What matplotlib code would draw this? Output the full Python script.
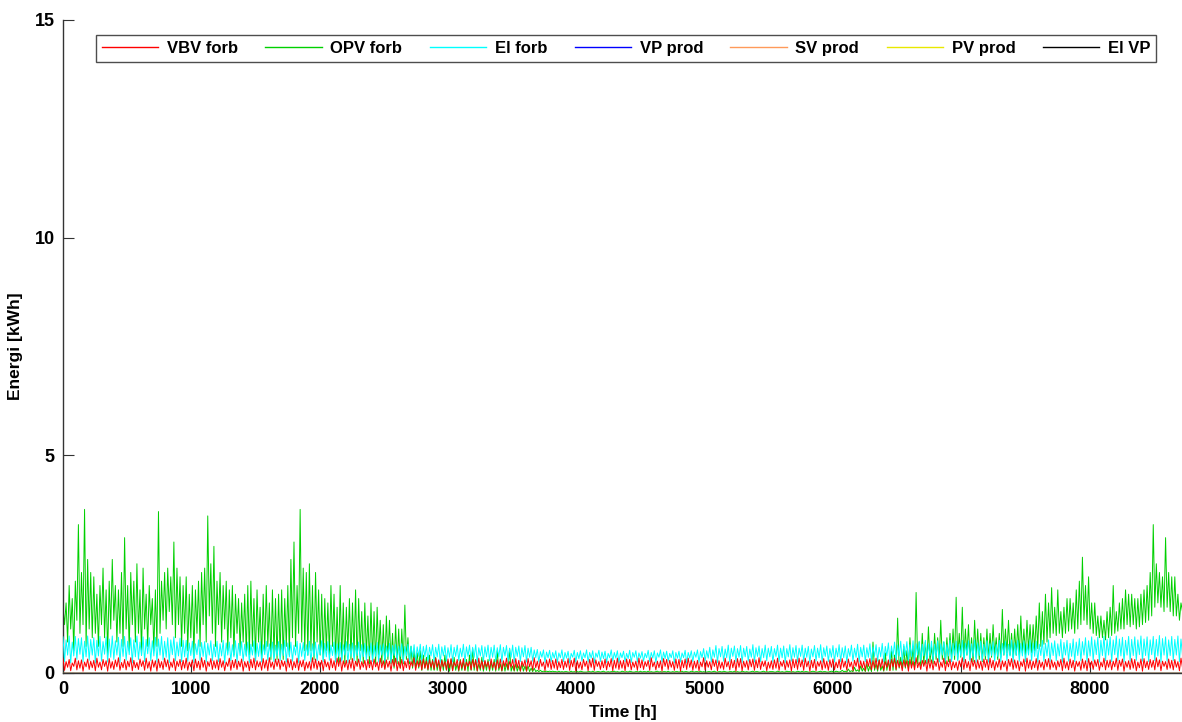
import numpy as np
import matplotlib
matplotlib.use("Agg")
import matplotlib.pyplot as plt

plt.rcParams['font.family'] = ['Liberation Sans', 'DejaVu Sans']
plt.rcParams['font.weight'] = 'bold'

STEP_H = 12  # one value every 12 hours (day peak / night low)

# OPV forb (green), hundredths of kWh, rows of 10 days
opv_forb_c = [
    150,110,160,70,200,100,170,50,210,120,340,90,230,110,375,60,260,100,230,80,
    220,90,180,60,200,110,240,80,190,40,210,100,260,120,200,70,190,90,230,60,
    310,100,200,50,230,110,210,70,250,90,190,40,240,100,180,60,200,110,170,50,
    190,60,370,90,210,120,230,100,240,140,220,110,300,80,240,110,220,60,200,90,
    220,50,180,80,200,40,190,90,210,60,230,110,240,70,360,130,250,90,290,60,
    210,110,230,70,200,100,210,50,190,80,200,40,180,90,170,50,160,70,180,40,
    200,40,210,60,170,30,190,70,150,30,180,50,200,60,160,30,190,40,170,30,
    180,40,190,30,170,60,200,40,260,80,300,60,200,90,375,70,240,50,230,40,
    250,50,200,30,230,70,190,40,180,30,170,50,160,40,200,60,180,30,150,20,
    200,30,160,20,150,50,170,30,160,40,190,20,170,50,140,20,160,40,130,20,
    160,30,140,20,150,40,120,20,110,10,130,30,120,20,90,10,110,20,100,10,
    100,20,155,30,80,20,60,10,50,10,45,10,50,5,40,10,35,5,40,5,
    30,5,35,5,25,3,30,5,40,5,25,3,30,5,35,5,20,3,30,5,
    25,5,30,3,40,5,55,5,30,3,20,5,35,3,25,5,30,3,25,5,
    30,3,50,5,20,3,25,3,20,5,55,3,15,3,20,3,15,3,20,3,
    15,3,15,2,10,2,10,2,5,2,5,2,3,2,3,2,3,2,3,2,
    2,1,3,1,2,1,2,2,1,1,3,1,2,1,2,1,3,2,1,1,
    1,2,2,1,3,1,1,2,2,1,2,3,1,1,2,1,2,2,3,1,
    2,1,1,3,2,1,2,1,3,2,1,1,2,2,1,3,1,2,2,1,
    3,1,2,1,1,2,3,1,2,1,2,2,1,3,1,1,2,1,2,2,
    1,2,3,1,2,2,1,1,3,2,1,2,2,1,3,1,2,1,1,2,
    2,1,2,3,1,1,2,2,1,3,2,1,1,2,2,1,3,1,2,1,
    1,3,2,1,2,1,1,2,3,1,2,2,1,1,2,3,1,2,1,2,
    2,2,1,1,3,2,1,2,1,1,3,2,2,1,2,1,1,3,2,1,
    3,1,2,2,1,1,2,3,2,1,1,2,3,1,2,2,1,1,2,3,
    2,1,3,2,1,2,5,2,3,1,8,2,4,2,12,3,6,2,15,3,
    10,2,20,3,15,2,70,5,20,3,30,5,15,3,45,5,25,5,50,5,
    40,5,125,10,35,10,60,10,50,10,80,15,60,10,184,20,70,15,90,20,
    70,20,105,25,60,20,90,30,80,25,120,30,70,20,80,25,90,30,100,30,
    173,30,90,35,150,30,100,40,110,30,80,25,120,35,100,30,90,25,80,30,
    100,30,90,35,110,40,80,30,90,35,145,40,100,45,120,40,90,35,100,40,
    110,40,130,45,100,40,120,50,110,45,110,50,130,55,160,60,140,65,180,70,
    160,80,195,90,150,85,190,90,140,80,150,90,170,95,170,100,160,90,190,100,
    210,110,265,120,200,110,220,100,160,90,160,85,130,80,130,80,120,75,140,80,
    150,85,200,90,140,95,160,100,170,100,190,110,180,105,180,110,170,100,170,105,
    180,110,190,115,200,120,230,130,340,150,250,160,230,150,220,140,310,150,230,140,
    220,130,220,130,180,120,160,140,
]

# El forb (cyan), hundredths of kWh
el_forb_c = [
    82,25,75,40,84,22,70,38,83,30,78,42,80,24,72,36,84,28,76,40,
    80,22,74,38,83,26,71,42,82,24,77,35,84,30,73,40,81,23,76,37,
    83,28,72,41,80,22,75,36,84,30,70,39,82,25,76,43,80,27,73,38,
    81,24,77,40,83,29,72,35,80,23,75,41,82,27,70,38,79,25,74,36,
    74,26,68,39,72,23,66,41,75,28,69,37,71,24,67,40,73,27,65,36,
    72,25,66,38,74,22,68,40,70,27,64,36,73,24,67,39,71,26,65,37,
    70,23,65,40,73,26,67,37,71,24,64,41,72,28,66,36,70,25,63,38,
    71,27,65,39,74,24,68,36,70,26,63,40,72,23,67,37,69,28,64,39,
    72,24,66,38,70,27,64,41,73,25,67,36,71,28,63,39,70,24,66,37,
    69,26,64,40,71,23,65,37,68,27,62,39,70,25,64,36,67,28,61,38,
    68,25,62,37,69,24,63,40,66,26,61,36,67,23,62,39,65,27,60,37,
    66,24,60,38,65,26,61,35,64,23,59,37,65,27,60,36,63,24,58,38,
    64,25,58,36,65,23,59,38,62,26,57,35,64,24,58,37,63,27,56,36,
    65,24,59,37,63,26,58,35,64,23,57,38,62,25,59,36,63,27,58,35,
    63,25,57,36,64,24,58,38,62,26,56,35,63,23,58,37,61,25,57,36,
    62,24,56,35,58,26,52,34,53,24,48,35,52,23,47,34,51,25,46,33,
    50,23,45,34,52,25,46,33,49,22,44,35,51,24,46,32,50,26,45,34,
    52,24,46,33,50,22,45,35,51,25,47,32,49,23,44,34,52,26,46,33,
    50,22,45,34,49,25,44,32,51,23,46,35,50,24,45,33,48,26,44,34,
    51,25,46,33,50,23,45,35,52,24,47,32,49,26,44,34,50,22,46,33,
    49,24,45,34,51,22,46,33,50,25,47,35,52,23,48,34,55,26,50,33,
    58,24,52,35,62,23,55,36,60,26,54,34,63,24,56,37,61,25,55,35,
    62,23,56,36,60,26,54,35,64,24,57,37,61,25,55,34,63,27,56,36,
    60,24,55,37,63,25,56,34,61,23,55,36,64,26,57,35,62,24,56,37,
    63,25,56,35,60,23,54,36,62,26,56,34,64,24,57,37,61,25,55,35,
    62,24,56,36,64,25,57,34,61,23,55,37,63,26,56,35,65,24,58,36,
    63,25,57,35,66,24,59,37,64,26,58,36,67,25,60,38,68,24,61,37,
    70,26,63,38,72,24,65,39,71,27,64,37,73,25,66,40,72,26,65,38,
    74,25,66,39,72,27,65,37,73,24,66,40,71,26,64,38,74,25,67,39,
    72,27,65,38,74,25,67,40,73,26,66,37,75,24,68,39,72,27,65,38,
    73,24,66,39,71,26,64,37,74,25,67,40,72,27,65,38,75,24,68,39,
    74,26,67,38,73,25,66,40,75,27,68,37,72,24,65,39,74,26,67,38,
    75,25,68,39,73,27,66,38,76,24,69,40,74,26,67,37,77,25,70,39,
    78,27,71,40,80,25,73,38,82,26,75,41,81,24,74,39,83,27,76,40,
    82,25,75,41,84,27,77,38,81,24,74,40,83,26,76,39,82,28,75,41,
    84,26,77,39,82,25,75,41,83,27,76,38,85,24,78,40,82,26,75,39,
    83,27,76,40,84,25,77,38,
]

# VBV forb (red), hundredths of kWh
vbv_forb_c = [
    32,5,25,12,30,4,22,14,33,6,27,10,29,3,24,13,31,7,26,11,
    28,4,33,12,24,6,30,14,27,3,32,10,25,7,29,13,34,5,23,11,
    30,6,26,13,34,4,28,11,23,7,31,14,27,5,33,10,25,3,29,12,
    27,3,31,11,25,7,33,13,29,5,24,12,32,4,26,14,30,6,28,10,
    33,5,24,13,29,4,31,11,26,6,34,12,28,3,25,14,32,7,27,10,
    29,6,32,12,27,4,24,14,33,5,28,11,30,7,26,13,31,3,25,12,
    26,4,30,11,33,6,27,13,25,5,32,10,29,4,34,12,24,7,31,14,
    31,7,28,14,26,3,32,12,30,6,25,11,33,5,27,13,29,4,24,10,
    25,5,34,10,31,7,26,12,28,4,30,13,24,6,32,11,27,5,33,14,
    34,3,27,12,28,6,29,10,32,4,26,14,31,7,25,12,28,6,30,11,
    28,6,31,13,24,5,33,11,27,7,29,12,26,3,30,14,33,4,25,10,
    30,4,26,11,32,7,25,14,34,5,27,13,28,6,31,10,26,7,29,12,
    27,7,33,12,29,3,28,13,25,6,31,11,32,4,24,14,30,5,27,10,
    32,5,24,14,26,6,30,12,29,4,33,10,27,7,28,13,25,6,31,11,
    24,6,29,10,31,4,27,13,33,7,25,12,30,5,32,11,28,3,26,14,
    29,3,32,13,27,5,34,11,26,6,30,14,24,4,29,12,31,7,28,10,
    31,6,25,11,30,7,26,12,32,5,28,13,33,3,27,10,24,6,30,14,
    26,4,30,12,33,5,29,14,25,7,27,11,31,6,26,13,32,4,28,10,
    33,7,27,10,28,4,31,13,30,6,24,12,26,5,33,11,29,7,25,14,
    28,5,34,13,24,6,26,11,27,3,32,14,30,7,28,12,25,5,31,10,
    30,3,28,11,31,7,33,12,29,5,26,10,28,4,24,13,34,6,27,12,
    25,6,31,14,29,4,27,10,24,7,33,13,25,6,30,11,28,3,32,12,
    32,4,26,12,27,6,30,13,31,5,29,11,34,7,26,14,27,4,24,10,
    27,7,29,10,33,5,25,14,28,6,27,12,29,3,31,11,30,7,33,13,
    29,5,33,13,26,3,28,11,30,4,25,14,27,6,32,10,26,5,29,12,
    31,6,24,11,30,7,32,12,26,5,31,13,24,4,28,14,33,6,27,10,
    26,4,30,14,32,6,27,10,33,7,28,11,31,5,25,12,29,4,30,13,
    33,7,28,12,25,4,29,13,27,3,30,10,26,6,34,11,24,7,28,14,
    28,3,31,10,29,6,26,14,32,5,24,12,33,4,27,13,31,6,25,11,
    24,5,27,13,34,7,30,11,25,4,32,14,28,7,29,10,26,5,31,12,
    30,6,33,11,28,5,25,12,31,6,27,13,26,3,30,14,32,7,29,10,
    27,4,25,14,31,3,33,10,29,7,26,11,32,5,28,12,24,6,30,13,
    32,7,29,12,24,6,27,13,30,4,33,10,25,6,31,11,28,3,26,14,
    25,5,31,10,27,4,32,11,26,7,29,14,30,5,24,13,33,6,28,12,
    29,6,26,13,33,5,28,14,31,3,25,12,27,7,32,10,30,4,24,11,
    31,3,32,11,26,7,30,12,28,6,34,13,29,4,26,14,25,7,31,10,
    28,6,30,12,25,4,33,11,
]

# series that stay at zero over the whole year (start and end points)
zero_hours = [0, 8724]
vp_prod = [0.0, 0.0]
sv_prod = [0.0, 0.0]
pv_prod = [0.0, 0.0]
el_vp = [0.0, 0.0]

labels = ['VBV forb', 'OPV forb', 'El forb', 'VP prod', 'SV prod', 'PV prod', 'El VP']
colors = ['#ff0000', '#00d000', '#00ffff', '#0000ff', '#ff9a5a', '#e8e800', '#000000']

opv_forb = np.array(opv_forb_c) / 100.0
el_forb = np.array(el_forb_c) / 100.0
vbv_forb = np.array(vbv_forb_c) / 100.0

def hours_for(series):
    return STEP_H * np.arange(len(series))

W, H = 1182, 722
fig = plt.figure(figsize=(W / 100, H / 100), dpi=100)
ax = fig.add_axes([63 / W, 1 - 672.5 / H, (W - 63) / W, (672.5 - 20) / H])

lw = 0.7
h_green, = ax.plot(hours_for(opv_forb), opv_forb, color=colors[1], lw=lw, zorder=2)
h_cyan, = ax.plot(hours_for(el_forb), el_forb, color=colors[2], lw=lw, zorder=3)
h_red, = ax.plot(hours_for(vbv_forb), vbv_forb, color=colors[0], lw=lw, zorder=4)
h_blue, = ax.plot(zero_hours, vp_prod, color=colors[3], lw=1.0, zorder=5)
h_or, = ax.plot(zero_hours, sv_prod, color=colors[4], lw=1.0, zorder=5)
h_yel, = ax.plot(zero_hours, pv_prod, color=colors[5], lw=1.0, zorder=5)
h_blk, = ax.plot(zero_hours, el_vp, color=colors[6], lw=1.0, zorder=6)

ax.set_xlim(0, 8720)
ax.set_ylim(0, 15)
ax.set_yticks([0, 5, 10, 15])
ax.set_xticks(np.arange(0, 9000, 1000))
ax.spines['top'].set_visible(False)
ax.spines['right'].set_visible(False)
for s in ['left', 'bottom']:
    ax.spines[s].set_color('#333333')
    ax.spines[s].set_linewidth(1.0)
ax.tick_params(direction='in', length=8, width=0.8, color='#333333',
               labelsize=13, pad=6)
for lab in ax.get_xticklabels() + ax.get_yticklabels():
    lab.set_fontweight('bold')

ax.set_xlabel('Time [h]', fontsize=12.5, fontweight='bold', labelpad=5.5)
ax.set_ylabel('Energi [kWh]', fontsize=12.5, fontweight='bold', labelpad=8)

handles = [h_red, h_green, h_cyan, h_blue, h_or, h_yel, h_blk]
leg = fig.legend(handles, labels, ncol=7, mode='expand',
                 bbox_to_anchor=(96 / W, 1 - 62 / H, 1060 / W, 29 / H),
                 loc='lower left', borderaxespad=0, frameon=True,
                 fancybox=False, edgecolor='#222222',
                 prop={'weight': 'bold', 'size': 12},
                 handlelength=3.4, handletextpad=0.5, borderpad=0.35,
                 columnspacing=0.8)
leg.get_frame().set_linewidth(1.0)
for ln in leg.get_lines():
    ln.set_linewidth(1.0)

fig.savefig('out.png', dpi=100)
